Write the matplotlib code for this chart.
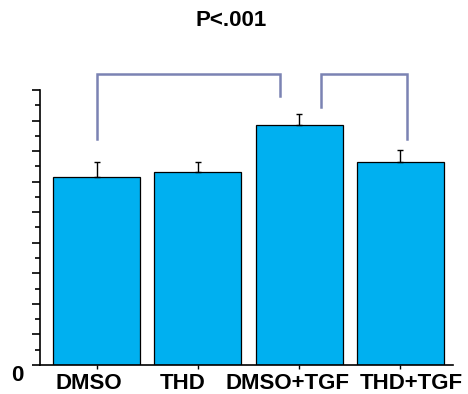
import numpy as np
import matplotlib
matplotlib.use('Agg')
import matplotlib.pyplot as plt
from matplotlib.ticker import MultipleLocator, FuncFormatter
import matplotlib.transforms as mtransforms

# data
groups = ['DMSO', 'THD', 'DMSO+TGF', 'THD+TGF']
means = [6.15, 6.3, 7.85, 6.63]
errs = [0.5, 0.33, 0.38, 0.39]
title_txt = 'P<.001'
# brackets: (x_left, y_left_bottom, x_right, y_right_bottom, y_top)
brackets = [(0.0, 7.4, 1.81, 8.8, 9.52),
            (2.22, 8.45, 3.07, 7.4, 9.52)]
# labels sit a little off the ticks in the original (pixels)
label_shift = [-8, -15, -11.5, 11]

plt.rcParams['font.family'] = ['Liberation Sans', 'DejaVu Sans']
plt.rcParams['font.weight'] = 'bold'

fig = plt.figure(figsize=(4.68, 3.94), dpi=100)
ax = fig.add_axes([0.0855, 0.0736, 0.968 - 0.0855, 0.7716 - 0.0736])

x = np.arange(len(groups))
ax.bar(x, means, width=0.86, color='#00B0F0', edgecolor='black', linewidth=0.9, zorder=2)
ax.errorbar(x, means, yerr=[np.zeros(len(errs)), errs], fmt='none',
            ecolor='black', elinewidth=1.0, capsize=2.5, capthick=1.0, zorder=3)

# significance brackets
for xl, yl, xr, yr, yt in brackets:
    ax.plot([xl, xl, xr, xr], [yl, yt, yt, yr], color='#7b83b3', lw=1.8,
            clip_on=False, solid_joinstyle='miter', zorder=4)

fig.text(0.494, 0.948, title_txt, ha='center', va='center', fontsize=16, fontweight='bold')

ax.set_xlim(-0.56, 3.52)
ax.set_ylim(0, 9)
ax.spines['top'].set_visible(False)
ax.spines['right'].set_visible(False)
ax.spines['left'].set_linewidth(1.2)
ax.spines['bottom'].set_linewidth(1.2)

ax.yaxis.set_major_locator(MultipleLocator(1))
ax.yaxis.set_minor_locator(MultipleLocator(0.5))
ax.yaxis.set_major_formatter(FuncFormatter(lambda v, p: '0' if abs(v) < 1e-9 else ''))
ax.tick_params(axis='y', which='major', length=6, width=1.2, pad=6, labelsize=16)
ax.tick_params(axis='y', which='minor', length=3.5, width=1.2)
for lab in ax.get_yticklabels():
    lab.set_transform(lab.get_transform() +
                      mtransforms.ScaledTranslation(0, -7.5 / 100, fig.dpi_scale_trans))

ax.set_xticks(x)
ax.set_xticklabels(groups, fontsize=16, fontweight='bold')
ax.tick_params(axis='x', length=3, width=1.0, pad=3)
for lab, dx in zip(ax.get_xticklabels(), label_shift):
    lab.set_transform(lab.get_transform() +
                      mtransforms.ScaledTranslation(dx / 100, 0, fig.dpi_scale_trans))

fig.savefig('out.png', dpi=100)
